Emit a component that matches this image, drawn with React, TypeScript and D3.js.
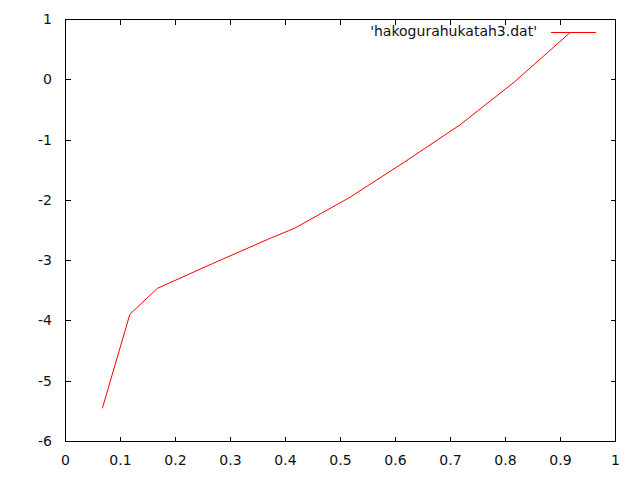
import React from 'react';
import * as d3 from 'd3';

// data
const xValues = [0.067, 0.117, 0.167, 0.267, 0.367, 0.417, 0.517, 0.617, 0.717, 0.817, 0.917];
const yValues = [-5.45, -3.89, -3.46, -3.05, -2.65, -2.46, -1.95, -1.36, -0.75, -0.03, 0.78];
const xTicks = [0, 0.1, 0.2, 0.3, 0.4, 0.5, 0.6, 0.7, 0.8, 0.9, 1];
const yTicks = [1, 0, -1, -2, -3, -4, -5, -6];
const seriesName = "'hakogurahukatah3.dat'";

const width = 640, height = 480;
const left = 65.5, right = 615.5, top = 19.5, bottom = 441.5;
const tick = 5;
const font = "'DejaVu Sans', sans-serif";

const App = () => {
  const x = d3.scaleLinear().domain([0, 1]).range([left, right]);
  const y = d3.scaleLinear().domain([-6, 1]).range([bottom, top]);

  const points = xValues.map((v, i) => [v, yValues[i]] as [number, number]);
  const line = d3.line<[number, number]>().x(d => x(d[0])).y(d => y(d[1]));

  return (
    <svg width={width} height={height} style={{ position: 'absolute', left: 0, top: 0, background: '#fff' }}>
      {/* tick marks on all four sides, like gnuplot */}
      <g stroke="#000" strokeWidth={1} shapeRendering="crispEdges">
        {xTicks.map(t => (
          <g key={`xt${t}`}>
            <line x1={x(t)} x2={x(t)} y1={bottom} y2={bottom - tick} />
            <line x1={x(t)} x2={x(t)} y1={top} y2={top + tick} />
          </g>
        ))}
        {yTicks.map(t => (
          <g key={`yt${t}`}>
            <line x1={left} x2={left + tick} y1={y(t)} y2={y(t)} />
            <line x1={right} x2={right - tick} y1={y(t)} y2={y(t)} />
          </g>
        ))}
        <rect x={left} y={top} width={right - left} height={bottom - top} fill="none" />
      </g>
      <g fontFamily={font} fontSize={14} fill="#111">
        {xTicks.map(t => (
          <text key={`xl${t}`} x={x(t)} y={464.5} textAnchor="middle">{d3.format('~g')(t)}</text>
        ))}
        {yTicks.map(t => (
          <text key={`yl${t}`} x={52} y={y(t) + 4.5} textAnchor="end">{t}</text>
        ))}
        <text x={537} y={36} textAnchor="end">{seriesName}</text>
      </g>
      <line x1={551} x2={596} y1={32.5} y2={32.5} stroke="#ff0000" strokeWidth={1} shapeRendering="crispEdges" />
      <path d={line(points) ?? ''} fill="none" stroke="#ff0000" strokeWidth={1} />
    </svg>
  );
};

export default App;
